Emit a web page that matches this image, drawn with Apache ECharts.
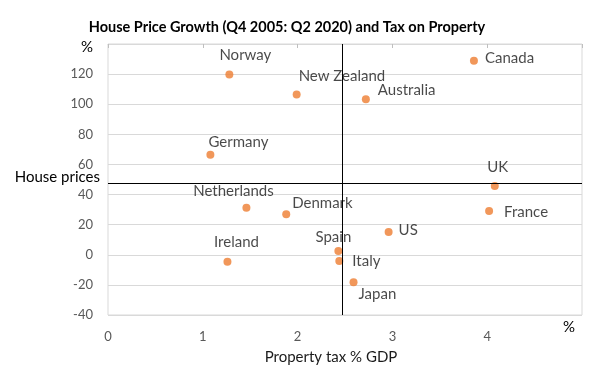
<!DOCTYPE html>
<html>
<head>
<meta charset="utf-8">
<script src="https://cdn.jsdelivr.net/npm/echarts@6/dist/echarts.min.js"></script>
<style>html,body{margin:0;padding:0;background:#fff}#c{width:605px;height:370px}</style>
</head>
<body>
<div id="c"></div>
<script>
const countries = ['Norway','Germany','Netherlands','Ireland','New Zealand','Australia','Denmark','US','Spain','Italy','Japan','Canada','UK','France'];
const propertyTax = [1.28, 1.08, 1.46, 1.26, 1.99, 2.72, 1.88, 2.96, 2.43, 2.44, 2.59, 3.86, 4.08, 4.02];
const houseGrowth = [119.7, 66.5, 31.2, -4.7, 106.4, 103.3, 26.9, 15.1, 2.5, -4.1, -18.2, 128.8, 45.6, 29.1];
const crossX = 2.47;   // vertical reference line (property tax)
const crossY = 47.8;   // horizontal reference line (house prices)
const xTicks = [0, 1, 2, 3, 4];
const yTicks = [-40, -20, 0, 20, 40, 60, 80, 100, 120];

// label placement: [align, dx, dy] relative to point centre
const labelPlace = {
  'Norway': ['center', 16, -19], 'Germany': ['center', 28, -13], 'Netherlands': ['center', -13, -17],
  'Ireland': ['center', 9, -20], 'New Zealand': ['left', 2, -18], 'Australia': ['left', 12, -9],
  'Denmark': ['left', 6, -11], 'US': ['left', 10, -2], 'Spain': ['center', -5, -14],
  'Italy': ['left', 13, 0], 'Japan': ['left', 5, 12], 'Canada': ['left', 11, -3],
  'UK': ['center', 3, -19], 'France': ['left', 15, 1]
};

const FONT = 'Lato';
const data = countries.map((n, i) => {
  const p = labelPlace[n];
  return {
    name: n, value: [propertyTax[i], houseGrowth[i]],
    label: { show: true, position: 'inside', align: p[0], verticalAlign: 'middle', offset: [p[1], p[2]], formatter: n }
  };
});

const chart = echarts.init(document.getElementById('c'), null, { renderer: 'canvas' });
chart.setOption({
  animation: false,
  title: {
    text: 'House Price Growth (Q4 2005: Q2 2020) and Tax on Property',
    left: 282, top: 15, textAlign: 'center',
    textStyle: { fontFamily: FONT, fontWeight: 'bold', fontSize: 14.5, color: '#000' }
  },
  grid: { left: 108, right: 23, top: 44, bottom: 50, show: true, borderColor: '#d9d9d9', borderWidth: 1 },
  xAxis: [{
    type: 'value', min: 0, max: 5, interval: 1,
    axisLine: { show: false }, axisTick: { show: false }, splitLine: { show: false },
    axisLabel: { color: '#595959', fontFamily: FONT, fontSize: 13, margin: 15,
      formatter: v => xTicks.includes(v) ? String(v) : '' },
    name: 'Property tax % GDP', nameLocation: 'middle', nameGap: 35,
    nameTextStyle: { fontFamily: FONT, fontSize: 15, color: '#1a1a1a', padding: [0, 28, 0, 0] }
  }, {
    type: 'value', min: 0, max: 5, interval: 1, position: 'top',
    axisLine: { show: true, onZero: true, lineStyle: { color: '#d9d9d9' } },
    axisTick: { show: true, inside: true, length: 4, lineStyle: { color: '#bfbfbf' } },
    axisLabel: { show: false }, splitLine: { show: false }
  }],
  yAxis: {
    type: 'value', min: -40, max: 140, interval: 20,
    axisLine: { show: false }, axisTick: { show: false },
    splitLine: { lineStyle: { color: '#d9d9d9', width: 1 } },
    axisLabel: { color: '#595959', fontFamily: FONT, fontSize: 13, margin: 15,
      formatter: v => yTicks.includes(v) ? String(v) : (v === 140 ? '{p|%}' : ''),
      rich: { p: { fontFamily: FONT, fontSize: 15, color: '#000', padding: [6, 0, 0, 0] } } }
  },
  graphic: [{
    type: 'text', left: 563, top: 320,
    style: { text: '%', font: '15px Lato', fill: '#000' }
  }],
  series: [{
    type: 'scatter', xAxisIndex: 0, data: data, symbolSize: 8,
    itemStyle: { color: '#ED7D31' },
    label: { fontFamily: FONT, fontSize: 15, color: '#1a1a1a' },
    emphasis: { disabled: true },
    markLine: {
      silent: true, symbol: 'none', animation: false,
      lineStyle: { color: '#000', width: 1, type: 'solid' },
      data: [
        { xAxis: crossX, label: { show: false } },
        { yAxis: crossY, label: { show: true, position: 'start', formatter: 'House prices', distance: 8, offset: [0, -6],
            fontFamily: FONT, fontSize: 15, color: '#000' } }
      ]
    }
  }]
});
</script>
</body>
</html>
